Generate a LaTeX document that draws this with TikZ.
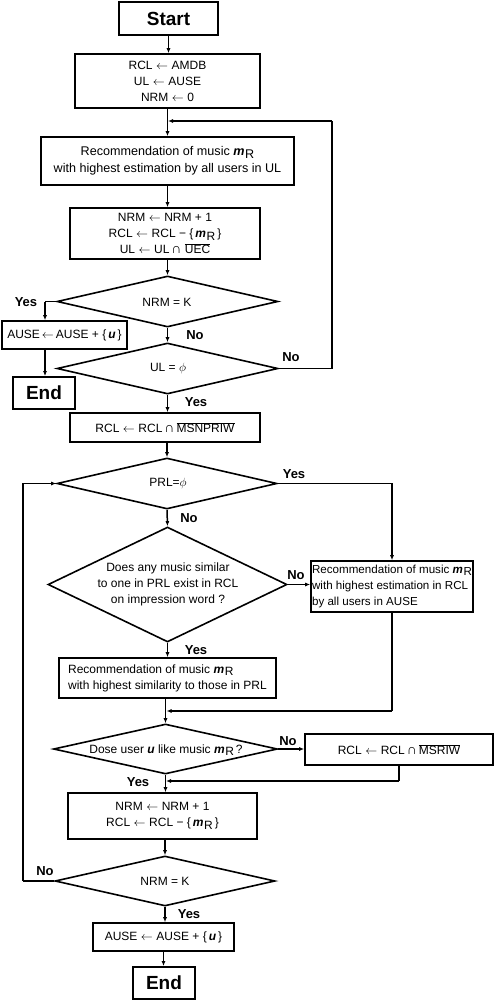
\documentclass[tikz,border=0pt]{standalone}
\usepackage{fontspec}
\setmainfont{Liberation Sans}
\usetikzlibrary{shapes.geometric,arrows.meta}
\newcommand{\mR}{\textbf{\textit{m}}\kern0.6pt\raisebox{-0.4ex}{R}}
\newcommand{\ubi}{\textbf{\textit{u}}}
\newcommand{\ovl}[1]{$\overline{\mbox{#1}}$}
\newcommand{\la}{\hspace{3.5pt}$\leftarrow$\hspace{3.5pt}}
\newcommand{\capp}{\,{\fontsize{14}{16}\selectfont ∩}}
\begin{document}
\begin{tikzpicture}[x=1pt,y=-1pt,
  box/.style={draw, line width=1.6pt, inner sep=0pt, align=center, font=\fontsize{12}{16}\selectfont},
  term/.style={draw, line width=1.8pt, inner sep=0pt, font=\fontsize{19}{22}\selectfont\bfseries},
  dec/.style={draw, diamond, line width=1.6pt, inner sep=0pt},
  dtxt/.style={align=center, inner sep=0pt, font=\fontsize{12}{16}\selectfont},
  lbl/.style={inner sep=0pt, font=\fontsize{13}{15}\selectfont\bfseries},
  arr/.style={line width=1.5pt, -{Latex[length=5pt,width=4pt]}},
  ln/.style={line width=1.5pt}]
\useasboundingbox (0,0) rectangle (496,1002);

% nodes
\node[term, minimum width=99pt, minimum height=33pt] (start) at (168.5,18.5) {Start};
\node[box, minimum width=185pt, minimum height=54pt] (init) at (167.5,81) {RCL\la AMDB\\UL\la AUSE\\NRM\la 0};
\node[box, minimum width=253pt, minimum height=48pt, font=\fontsize{12.6}{17}\selectfont] (rec1) at (167.5,161) {Recommendation of music \mR\\with highest estimation by all users in UL};
\node[box, minimum width=190pt, minimum height=51pt] (upd1) at (165,233.5) {NRM\la NRM + 1\\RCL\la RCL − \{\,\mR\,\}\\UL\la UL\capp\ \ovl{UEC}};
\node[dec, minimum width=221pt, minimum height=51pt] (d1) at (167.5,301.5) {};
\node[dtxt] (d1t) at (167,302) {NRM = K};
\node[box, minimum width=125pt, minimum height=28pt] (ause1) at (64.5,335) {AUSE\hspace{2pt}$\leftarrow$\hspace{2pt}AUSE + \{\,\ubi\,\}};
\node[term, minimum width=62pt, minimum height=32pt] (end1) at (44,393) {End};
\node[dec, minimum width=221pt, minimum height=51pt] (d2) at (167.5,368.5) {};
\node[dtxt] (d2t) at (168,368.5) {UL = $\phi$};
\node[box, minimum width=190pt, minimum height=29pt] (rcl1) at (165,427.5) {RCL\la RCL\capp\,\ovl{MSNPRIW}};
\node[dec, minimum width=220pt, minimum height=51pt] (d3) at (167,483.5) {};
\node[dtxt] (d3t) at (168,483.5) {PRL=$\phi$};
\node[dec, minimum width=239pt, minimum height=115pt] (d4) at (167.5,584.5) {};
\node[dtxt] (d4t) at (168,584) {Does any music similar\\to one in PRL exist in RCL\\on impression word ?};
\node[box, minimum width=162pt, minimum height=51pt, align=left, font=\fontsize{11.6}{16}\selectfont] (rec2) at (392,586.5) {Recommendation of music \mR\\with highest estimation in RCL\\by all users in AUSE};
\node[box, minimum width=217pt, minimum height=40pt, align=left] (rec3) at (167.5,678) {Recommendation of music \mR\\with highest similarity to those in PRL};
\node[dec, minimum width=224pt, minimum height=50pt] (d5) at (165.5,749) {};
\node[dtxt] (d5t) at (166,750) {Dose user \ubi\ like music \mR\,?};
\node[box, minimum width=188pt, minimum height=31pt] (rcl2) at (399,749.5) {RCL\la RCL\capp\,\ovl{MSRIW}};
\node[box, minimum width=189pt, minimum height=46pt] (upd2) at (162.5,816) {NRM\la NRM + 1\\RCL\la RCL − \{\,\mR\,\}};
\node[dec, minimum width=220pt, minimum height=50pt] (d6) at (165,881) {};
\node[dtxt] (d6t) at (165,881) {NRM = K};
\node[box, minimum width=141pt, minimum height=28pt] (ause2) at (163.5,937) {AUSE\la AUSE + \{\,\ubi\,\}};
\node[term, minimum width=62pt, minimum height=32pt] (end2) at (164,983) {End};

% junction coordinates
\coordinate (j1) at (168,121);
\coordinate (r1) at (332,121);
\coordinate (y1) at (45,301.5);
\coordinate (j2) at (166.5,711);
\coordinate (j3) at (166,781);
\coordinate (l1) at (23,881);

% connectors
\draw[arr] (start.south) -- (start.south |- init.north);
\draw[arr] (init.south) -- (init.south |- rec1.north);
\draw[arr] (rec1.south) -- (rec1.south |- upd1.north);
\draw[arr] (d1.north |- upd1.south) -- (d1.north);
\draw[ln] (d1.west) -- (y1);
\draw[arr] (y1) -- (y1 |- ause1.north);
\draw[arr] (y1 |- ause1.south) -- (y1 |- end1.north);
\draw[arr] (d1.south) -- (d2.north);
\draw[ln] (d2.east) -| (r1);
\draw[arr] (r1) -- (j1);
\draw[arr] (d2.south) -- (d2.south |- rcl1.north);
\draw[arr] (d3.north |- rcl1.south) -- (d3.north);
\draw[arr] (d3.east) -| (rec2.north);
\draw[arr] (d3.south) -- (d4.north);
\draw[arr] (d4.east) -- (d4.east -| rec2.west);
\draw[arr] (d4.south) -- (d4.south |- rec3.north);
\draw[arr] (d5.north |- rec3.south) -- (d5.north);
\draw[ln] (rec2.south) -- (rec2.south |- j2);
\draw[arr] (rec2.south |- j2) -- (j2);
\draw[arr] (d5.east) -- (d5.east -| rcl2.west);
\draw[ln] (rcl2.south) -- (rcl2.south |- j3);
\draw[arr] (rcl2.south |- j3) -- (j3);
\draw[arr] (d5.south) -- (d5.south |- upd2.north);
\draw[arr] (d6.north |- upd2.south) -- (d6.north);
\draw[ln] (d6.west) -- (l1);
\draw[arr] (l1) |- (d3.west);
\draw[arr] (d6.south) -- (d6.south |- ause2.north);
\draw[arr] (ause2.south) -- (ause2.south |- end2.north);

% labels
\node[lbl] (t1) at (26,302) {Yes};
\node[lbl] (t2) at (195,335) {No};
\node[lbl] (t3) at (291,357) {No};
\node[lbl] (t4) at (196,402) {Yes};
\node[lbl] (t5) at (294,474) {Yes};
\node[lbl] (t6) at (189,518) {No};
\node[lbl] (t7) at (296,575) {No};
\node[lbl] (t8) at (196,650) {Yes};
\node[lbl] (t9) at (288,741) {No};
\node[lbl] (t10) at (138,782) {Yes};
\node[lbl] (t11) at (45,871) {No};
\node[lbl] (t12) at (189,914) {Yes};
\end{tikzpicture}
\end{document}
